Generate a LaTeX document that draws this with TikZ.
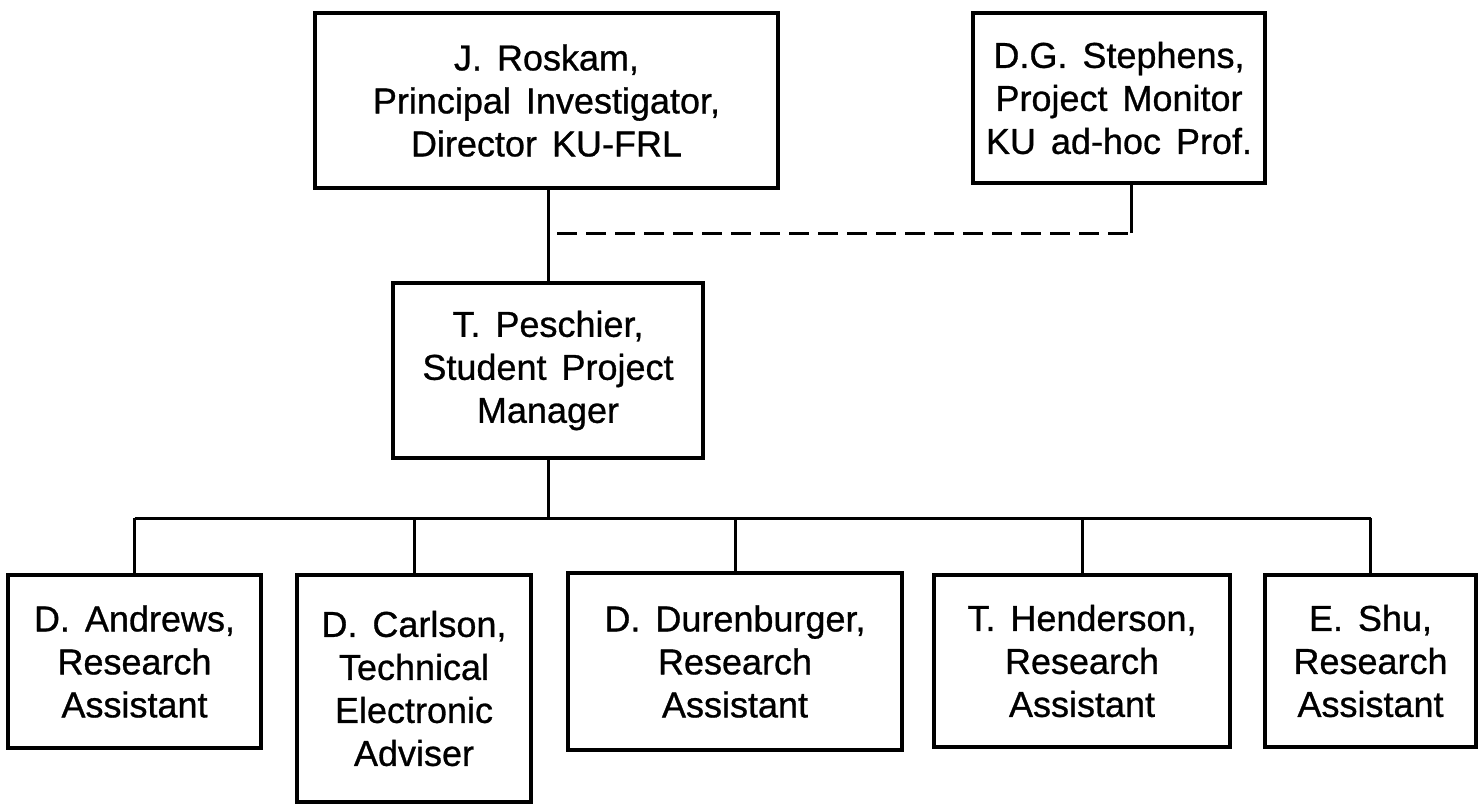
\documentclass[tikz,border=0pt]{standalone}
\usepackage{fontspec}
\setmainfont{Liberation Sans}[WordSpace=1.5,FakeBold=0.8]
\usepackage{tikz}
\usetikzlibrary{calc}

\tikzset{
  person/.style={draw, line width=4pt, align=center, inner sep=0pt,
    font=\fontsize{36}{43}\selectfont},
  link/.style={draw, line width=3pt},
  advisory/.style={draw, line width=3pt, dash pattern=on 20pt off 9pt}
}

\begin{document}
\begin{tikzpicture}[x=1pt,y=-1pt]
  \useasboundingbox (0,0) rectangle (1479,809);
  % top level
  \node[person,minimum width=463pt,minimum height=175pt] (roskam) at (546.5,100.5)
    {J. Roskam,\\Principal Investigator,\\Director KU-FRL};
  \node[person,minimum width=292pt,minimum height=170pt] (stephens) at (1119,98)
    {D.G. Stephens,\\Project Monitor\\KU ad-hoc Prof.};
  \node[person,minimum width=310pt,minimum height=175pt] (peschier) at (548,370.5)
    {T. Peschier,\\Student Project\\Manager};
  % research staff
  \node[person,minimum width=253pt,minimum height=173pt] (andrews) at (134.5,661.5)
    {D. Andrews,\\Research\\Assistant};
  \node[person,minimum width=234pt,minimum height=227pt] (carlson) at (414,688.5)
    {D. Carlson,\\Technical\\Electronic\\Adviser};
  \node[person,minimum width=334pt,minimum height=177pt] (durenburger) at (735,661.5)
    {D. Durenburger,\\Research\\Assistant};
  \node[person,minimum width=296pt,minimum height=172pt] (henderson) at (1082,661)
    {T. Henderson,\\Research\\Assistant};
  \node[person,minimum width=211pt,minimum height=172pt] (shu) at (1370.5,661)
    {E. Shu,\\Research\\Assistant};
  % connectors
  \coordinate (liaison) at (557,233);
  \coordinate (monitor) at (1131,233);
  \coordinate (bus) at (0,518);
  \draw[link] (peschier.north) -- (peschier.north |- roskam.south);
  \draw[advisory] (liaison) -- (monitor);
  \draw[link] (monitor) -- (monitor |- stephens.south);
  \draw[link] (peschier.south) -- (peschier.south |- bus);
  \draw[link] (andrews.north |- bus) -- (shu.north |- bus);
  \foreach \who in {andrews,carlson,durenburger,henderson,shu}
    \draw[link] (\who.north) -- (\who.north |- bus);
\end{tikzpicture}
\end{document}
